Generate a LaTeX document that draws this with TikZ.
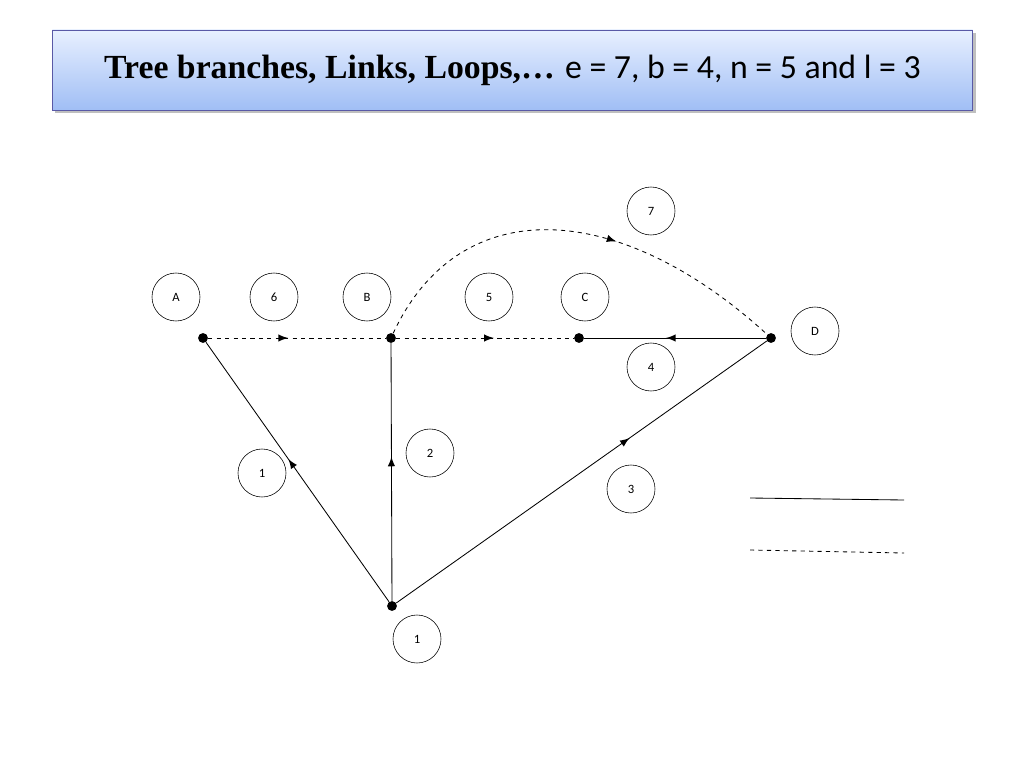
\documentclass[tikz,border=0pt]{standalone}
\usepackage{fontspec}
\setsansfont{Carlito}
\newfontfamily\titlefont{Liberation Serif}
\usetikzlibrary{decorations.markings,shadows}
\definecolor{titletop}{RGB}{232,240,255}
\definecolor{titlebot}{RGB}{160,190,245}
\tikzstyle{dotnode} = [circle, fill, inner sep=0pt, minimum size=7pt]
\tikzstyle{labnode} = [draw, circle, minimum size=1.2cm, inner sep=0pt, font=\sffamily\small]
\tikzstyle{midarrow} = [postaction={decorate}, decoration={markings, mark=at position #1 with {\arrow[scale=1.5]{latex}}}]
\tikzstyle{branch} = [semithick]
\tikzstyle{link} = [semithick, dashed]
\begin{document}
\begin{tikzpicture}[x=0.025cm, y=-0.025cm, >=latex]
    \useasboundingbox (0,0) rectangle (1024,768);
    % title
    \node[draw=blue!30!gray, top color=titletop, bottom color=titlebot, drop shadow,
          minimum width=23.0cm, minimum height=2.0cm] (title) at (512.5,70)
        {\fontsize{24}{28}\selectfont{\titlefont\bfseries Tree branches, Links, Loops,\ldots} \sffamily e = 7, b = 4, n = 5 and l = 3};
    % vertices
    \node[dotnode] (va) at (203,338) {};
    \node[dotnode] (vb) at (391,338) {};
    \node[dotnode] (vc) at (579,338) {};
    \node[dotnode] (vd) at (771,338) {};
    \node[dotnode] (vg) at (392,606) {};
    % labels
    \node[labnode] (lA) at (176,297) {A};
    \node[labnode] (l6) at (274,297) {6};
    \node[labnode] (lB) at (367,297) {B};
    \node[labnode] (l5) at (489,297) {5};
    \node[labnode] (lC) at (585,297) {C};
    \node[labnode] (l7) at (651,211) {7};
    \node[labnode] (lD) at (815,331) {D};
    \node[labnode] (l4) at (651,367) {4};
    \node[labnode] (l2) at (430,453) {2};
    \node[labnode] (l1) at (262,473) {1};
    \node[labnode] (l3) at (631,489) {3};
    \node[labnode] (lG) at (417,639) {1};
    % edges
    \draw[link, midarrow=0.45] (va) -- (vb);
    \draw[link, midarrow=0.55] (vb) -- (vc);
    \draw[branch, midarrow=0.55] (vd) -- (vc);
    \draw[branch, midarrow=0.55] (vg) -- (va);
    \draw[branch, midarrow=0.56] (vg) -- (vb);
    \draw[branch, midarrow=0.63] (vg) -- (vd);
    \draw[link, midarrow=0.6] (vb) .. controls (460,190) and (620,200) .. (vd);
    % legend
    \coordinate (s1) at (750,498);
    \coordinate (s2) at (904,500);
    \coordinate (d1) at (750,550);
    \coordinate (d2) at (904,553);
    \draw[branch] (s1) -- (s2);
    \draw[link] (d1) -- (d2);
\end{tikzpicture}
\end{document}
